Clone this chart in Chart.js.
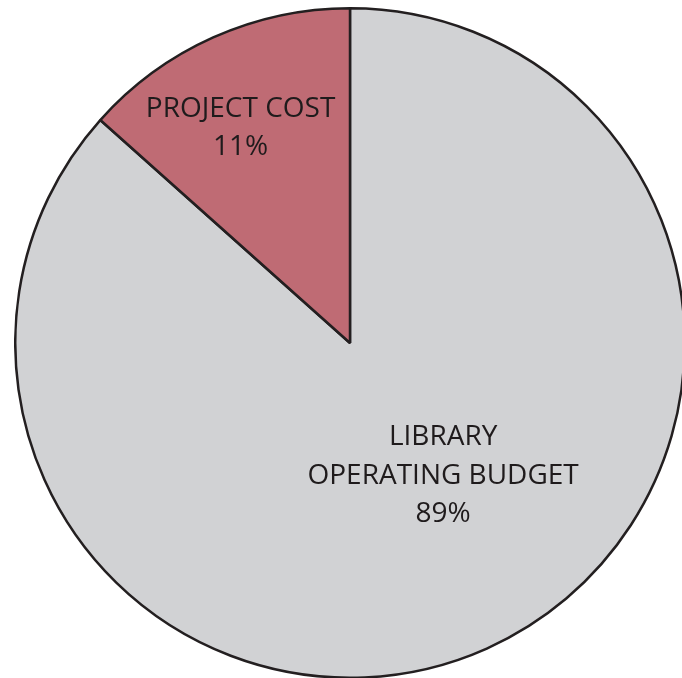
<!DOCTYPE html>
<html>
<head>
<meta charset="utf-8">
<script src="https://cdn.jsdelivr.net/npm/chart.js@4.4.1/dist/chart.umd.min.js"></script>
<style>
html,body{margin:0;padding:0;background:#fff;overflow:hidden;width:682px;height:678px;}
#wrap{position:absolute;left:14px;top:7px;width:672px;height:672px;}
</style>
</head>
<body>
<div id="wrap"><canvas id="pie"></canvas></div>
<script>
// slice names and the percentages printed on the chart
const sliceNames = [['LIBRARY', 'OPERATING BUDGET'], ['PROJECT COST']];
const printedPct = [89, 11];
// slice sizes as drawn in the picture (the red wedge is drawn a bit wider than its 11% label)
const sliceShare = [86.6, 13.4];
const sliceColors = ['#d1d2d4', '#bf6b74'];

// where each label block sits: angle from 12 o'clock (deg, clockwise) and share of the radius
const labelSpots = [{ang: 145, r: 0.485}, {ang: -27, r: 0.72}];

const pieLabels = {
    id: 'pieLabels',
    afterDatasetsDraw(chart) {
        const ctx = chart.ctx;
        const arcs = chart.getDatasetMeta(0).data;
        ctx.save();
        ctx.fillStyle = '#1f1b1c';
        ctx.font = '28px "Open Sans"';
        ctx.textAlign = 'center';
        ctx.textBaseline = 'middle';
        arcs.forEach((arc, i) => {
            const p = arc.getProps(['x', 'y', 'outerRadius']);
            const a = labelSpots[i].ang * Math.PI / 180;
            const cx = p.x + Math.sin(a) * p.outerRadius * labelSpots[i].r;
            const cy = p.y - Math.cos(a) * p.outerRadius * labelSpots[i].r;
            const lines = sliceNames[i].concat([printedPct[i] + '%']);
            const lh = 38.5;
            const top = cy - (lines.length - 1) * lh / 2;
            lines.forEach((t, k) => ctx.fillText(t, cx, top + k * lh));
        });
        ctx.restore();
    }
};

new Chart(document.getElementById('pie'), {
    type: 'pie',
    data: {
        labels: sliceNames.map(n => n.join(' ')),
        datasets: [{
            data: sliceShare,
            backgroundColor: sliceColors,
            borderColor: '#231f20',
            borderWidth: 2.5,
            borderAlign: 'center'
        }]
    },
    options: {
        responsive: true,
        maintainAspectRatio: false,
        animation: false,
        layout: {padding: 0},
        plugins: {legend: {display: false}, tooltip: {enabled: false}}
    },
    plugins: [pieLabels]
});
</script>
</body>
</html>
